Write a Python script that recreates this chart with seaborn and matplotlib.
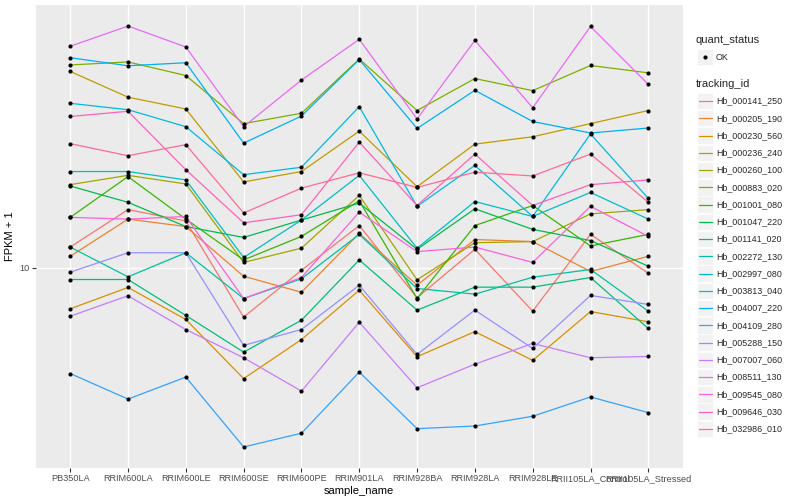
import numpy as np
import pandas as pd
import seaborn as sns
import matplotlib
matplotlib.use('Agg')
import matplotlib.pyplot as plt
from matplotlib.patches import Rectangle

# sample order on the x axis
samples = ['PB350LA', 'RRIM600LA', 'RRIM600LE', 'RRIM600SE', 'RRIM600PE', 'RRIM901LA',
           'RRIM928BA', 'RRIM928LA', 'RRIM928LE', 'RRII105LA_Control', 'RRII105LA_Stressed']

tracking_ids = ['Hb_000141_250', 'Hb_000205_190', 'Hb_000230_560', 'Hb_000236_240',
                'Hb_000260_100', 'Hb_000883_020', 'Hb_001001_080', 'Hb_001047_220',
                'Hb_001141_020', 'Hb_002272_130', 'Hb_002997_080', 'Hb_003813_040',
                'Hb_004007_220', 'Hb_004109_280', 'Hb_005288_150', 'Hb_007007_060',
                'Hb_008511_130', 'Hb_009545_080', 'Hb_009646_030', 'Hb_032986_010']

# ggplot default hue palette for 20 levels
colors = ['#F8766D', '#EA8331', '#D89000', '#C09B00', '#A3A500', '#7CAE00', '#39B600',
          '#00BB4E', '#00BF7D', '#00C1A3', '#00BFC4', '#00BAE0', '#00B0F6', '#35A2FF',
          '#9590FF', '#C77CFF', '#E76BF3', '#FA62DB', '#FF62BC', '#FF6C91']

# FPKM + 1, one list per gene, in sample order
hb_000141_250 = [11.7, 15.6, 14.3, 6.83, 9.79, 13.8, 7.93, 11.5, 7.15, 12.9, 9.57]
hb_000205_190 = [10.9, 14.5, 13.7, 9.35, 8.27, 13.0, 8.73, 12.4, 12.2, 9.70, 10.9]
hb_000230_560 = [7.28, 8.58, 6.71, 4.26, 5.75, 8.40, 5.04, 6.11, 4.90, 7.13, 6.59]
hb_000236_240 = [45.1, 37.0, 33.8, 19.3, 20.9, 28.5, 18.6, 25.8, 27.3, 30.2, 33.4]
hb_000260_100 = [18.9, 20.3, 19.0, 10.4, 11.6, 17.4, 9.10, 12.1, 12.2, 15.1, 15.6]
hb_000883_020 = [47.4, 48.5, 43.7, 30.2, 32.7, 49.6, 33.4, 42.7, 38.9, 47.2, 44.6]
hb_001001_080 = [14.7, 20.1, 14.5, 10.6, 12.7, 16.7, 7.88, 13.8, 16.1, 11.8, 12.9]
hb_001047_220 = [18.7, 16.5, 13.7, 12.6, 14.4, 16.4, 11.5, 15.7, 13.4, 12.3, 10.1]
hb_001141_020 = [9.12, 9.12, 6.92, 5.22, 6.67, 10.6, 7.21, 8.60, 8.60, 9.26, 6.26]
hb_002272_130 = [11.7, 9.31, 11.2, 7.88, 9.17, 12.9, 8.51, 8.15, 9.28, 9.85, 7.15]
hb_002997_080 = [20.9, 20.9, 19.6, 10.8, 14.4, 20.3, 11.6, 16.6, 14.8, 17.8, 14.5]
hb_003813_040 = [35.3, 33.6, 29.5, 20.4, 21.6, 34.4, 16.0, 21.9, 14.8, 27.9, 17.0]
hb_004007_220 = [50.1, 47.1, 48.2, 26.0, 32.0, 49.4, 29.1, 39.0, 30.7, 28.1, 29.2]
hb_004109_280 = [4.43, 3.64, 4.31, 2.52, 2.80, 4.48, 2.90, 2.96, 3.19, 3.70, 3.28]
hb_005288_150 = [9.65, 11.2, 11.2, 5.50, 6.21, 8.73, 5.13, 7.21, 5.37, 8.07, 7.53]
hb_007007_060 = [6.88, 8.05, 6.21, 5.00, 3.87, 6.57, 3.97, 4.76, 5.58, 5.00, 5.05]
hb_008511_130 = [54.7, 63.9, 54.4, 29.5, 42.2, 57.7, 31.3, 57.2, 34.1, 63.7, 40.8]
hb_009545_080 = [14.7, 14.5, 14.8, 7.88, 9.26, 15.3, 11.3, 11.7, 10.4, 16.0, 12.7]
hb_009646_030 = [31.9, 33.2, 21.2, 14.1, 15.0, 26.2, 16.1, 23.9, 16.1, 18.9, 19.6]
hb_032986_010 = [25.9, 23.6, 25.7, 15.2, 18.4, 20.7, 18.5, 20.8, 20.2, 23.9, 16.5]

series = [hb_000141_250, hb_000205_190, hb_000230_560, hb_000236_240, hb_000260_100,
          hb_000883_020, hb_001001_080, hb_001047_220, hb_001141_020, hb_002272_130,
          hb_002997_080, hb_003813_040, hb_004007_220, hb_004109_280, hb_005288_150,
          hb_007007_060, hb_008511_130, hb_009545_080, hb_009646_030, hb_032986_010]

# long table, like the one ggplot got
rows = []
for tid, vals in zip(tracking_ids, series):
    for s, v in zip(samples, vals):
        rows.append({'tracking_id': tid, 'sample_name': s, 'fpkm': v, 'quant_status': 'OK'})
df = pd.DataFrame(rows)
df['pos'] = pd.Categorical(df['sample_name'], categories=samples).codes

sns.set_theme(style='white')
plt.rcParams['font.family'] = ['Liberation Sans', 'DejaVu Sans']

fig = plt.figure(figsize=(8, 5), dpi=100)
W, H = 800, 500
left, right, top, bottom = 35.5, 683, 5, 468
ax = fig.add_axes([left / W, 1 - bottom / H, (right - left) / W, (bottom - top) / H])
ax.set_facecolor('#EBEBEB')
for sp in ax.spines.values():
    sp.set_visible(False)

sns.lineplot(data=df, x='pos', y='fpkm', hue='tracking_id', hue_order=tracking_ids,
             palette=colors, estimator=None, sort=False, lw=0.9, legend=False, ax=ax)
sns.scatterplot(data=df, x='pos', y='fpkm', color='black', s=9, linewidth=0,
                legend=False, ax=ax, zorder=4)

ax.set_yscale('log')
lo, hi = np.log10(df['fpkm'].min()), np.log10(df['fpkm'].max())
pad = (hi - lo) * 0.05
ax.set_ylim(10 ** (lo - pad), 10 ** (hi + pad))
ax.set_xlim(-0.6, len(samples) - 0.4)

ax.set_xticks(range(len(samples)))
ax.set_xticklabels(samples)
ax.set_yticks([10])
ax.set_yticklabels(['10'])
ax.yaxis.set_minor_locator(matplotlib.ticker.NullLocator())

ax.grid(True, which='major', color='white', lw=1.0)
ax.set_axisbelow(True)
ax.tick_params(axis='both', which='major', length=3, width=0.8, color='#333333',
               labelsize=6.6, labelcolor='#4D4D4D', pad=1.5, bottom=True, left=True)
ax.set_xlabel('sample_name', fontsize=8, color='black', labelpad=2)
ax.set_ylabel('FPKM + 1', fontsize=8, color='black', labelpad=3)

# legends drawn ggplot-style on a full-figure overlay
lg = fig.add_axes([0, 0, 1, 1], facecolor='none')
lg.set_xlim(0, W)
lg.set_ylim(H, 0)
lg.axis('off')

lg.text(696, 40, 'quant_status', fontsize=8, va='center', ha='left')
lg.add_patch(Rectangle((697, 49), 16, 16, fc='#F2F2F2', ec='white', lw=0.5))
lg.scatter([705], [57], s=9, color='black', linewidths=0)
lg.text(716, 57, 'OK', fontsize=6.4, va='center', ha='left')

lg.text(696, 84, 'tracking_id', fontsize=8, va='center', ha='left')
step = 17.26
for i, (tid, c) in enumerate(zip(tracking_ids, colors)):
    cy = 101 + i * step
    lg.add_patch(Rectangle((697, cy - 8.2), 16, 16.4, fc='#F2F2F2', ec='white', lw=0.5))
    lg.plot([698.5, 711.5], [cy, cy], color=c, lw=0.9)
    lg.text(716, cy, tid, fontsize=6.4, va='center', ha='left')

fig.savefig('out.png', dpi=100)
